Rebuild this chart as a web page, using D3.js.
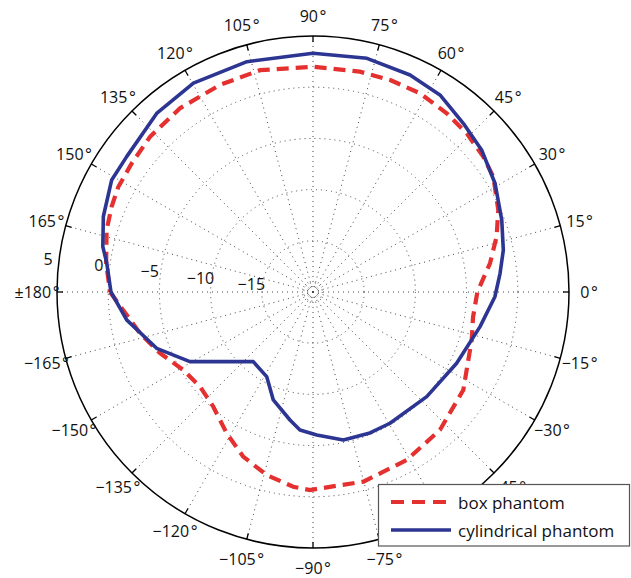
<!DOCTYPE html>
<html>
<head>
<meta charset="utf-8">
<script src="https://cdn.jsdelivr.net/npm/d3@7"></script>
<style>
  html, body { margin: 0; padding: 0; background: #fff; }
  svg { display: block; font-family: "Open Sans", "Noto Sans", sans-serif; }
</style>
</head>
<body>
<svg id="chart" width="631" height="578"></svg>
<script>
// Radiation pattern, gain in dB against azimuth in degrees (0° = right, counter-clockwise)
const boxAngle = [-180, -166.6, -158.2, -149, -140, -131, -121.4, -113, -104.2, -95.8, -90.9, -75.1, -60.9, -47.4, -33.1, -16.8, -8.9, 0, 9.2, 16.8, 23.9, 32.6, 38.5, 45.9, 53.2, 61.7, 70, 78, 90, 103.4, 114.2, 125.9, 136.4, 144.6, 151.6, 157, 163.3, 172, 180];
const boxGain  = [-0.18, -2.63, -3.91, -5.22, -5.61, -5.16, -3.83, -2.54, -1.56, -0.89, -0.66, -0.84, -1.21, -1.69, -2.48, -3.81, -4.18, -3.95, -2.49, -1.27, -0.21, 0.9, 1.24, 1.57, 1.8, 2.04, 2.03, 2.0, 2.0, 2.27, 2.17, 2.15, 1.98, 1.71, 1.61, 1.36, 1.04, 0.4, -0.18];

const cylAngle = [-180, -171.5, -160.2, -150.5, -130.6, -118.7, -110.2, -100.2, -95.4, -88.5, -78.4, -68, -59.6, -42.6, -26.4, -11.7, -1.5, 5.7, 12.4, 20.9, 30.8, 40.1, 48.3, 57.2, 65.9, 77, 90, 106, 119.8, 131.2, 144, 150.9, 160.2, 167.8, 172, 180];
const cylGain  = [-0.27, -1.6, -3.77, -6.19, -11.04, -10.58, -8.77, -7.3, -6.46, -6.04, -5.25, -5.15, -5.14, -4.91, -4.34, -3.34, -2.23, -1.64, -0.97, -0.27, 0.7, 1.53, 2.06, 2.89, 3.21, 3.42, 3.31, 3.4, 3.5, 3.18, 2.49, 2.5, 1.76, 1.0, 0.34, -0.27];

// Grid and labels
const ringValues = [-15, -10, -5, 0];
const innerRing = -19.1;
const ringLabels = ["\u221215", "\u221210", "\u22125", "0", "5"];
const ringLabelValues = [-15, -10, -5, 0, 5];
const spokeAngles = d3.range(0, 360, 15);
const angleLabels = ["0", "15", "30", "45", "60", "75", "90", "105", "120", "135", "150", "165", "\u00b1180",
  "\u2212165", "\u2212150", "\u2212135", "\u2212120", "\u2212105", "\u221290", "\u221275", "\u221260", "\u221245", "\u221230", "\u221215"];
const seriesNames = ["box phantom", "cylindrical phantom"];

const cx = 313, cy = 292, R = 256;
const svg = d3.select("#chart");
const g = svg.append("g").attr("transform", `translate(${cx},${cy})`);

const r = d3.scaleLinear().domain([-20, 5]).range([0, R]);
const rad = d => d * Math.PI / 180;
const px = (a, v) => r(v) * Math.cos(rad(a));
const py = (a, v) => -r(v) * Math.sin(rad(a));

// dotted rings
const gridStyle = sel => sel.attr("fill", "none").attr("stroke", "#444")
  .attr("stroke-width", 1).attr("stroke-dasharray", "1,4");
g.selectAll("circle.ring").data(ringValues.concat([innerRing])).join("circle")
  .attr("class", "ring").attr("r", d => r(d)).call(gridStyle);

// dotted spokes
g.selectAll("line.spoke").data(spokeAngles).join("line")
  .attr("class", "spoke")
  .attr("x1", 0).attr("y1", 0)
  .attr("x2", d => px(d, 5)).attr("y2", d => py(d, 5))
  .call(gridStyle);

// outer frame and ticks
g.append("circle").attr("r", r(5)).attr("fill", "none").attr("stroke", "#000").attr("stroke-width", 1.5);
g.selectAll("line.tick").data(spokeAngles).join("line")
  .attr("class", "tick")
  .attr("x1", d => px(d, 5)).attr("y1", d => py(d, 5))
  .attr("x2", d => px(d, 5) * (R - 6) / R).attr("y2", d => py(d, 5) * (R - 6) / R)
  .attr("stroke", "#000").attr("stroke-width", 1.3);

// radial tick labels
const ringLabelAngle = 172.8;
g.selectAll("text.rlab").data(ringLabelValues).join("text")
  .attr("class", "rlab")
  .attr("x", (d) => (r(d) + 11) * Math.cos(rad(ringLabelAngle)))
  .attr("y", (d) => -(r(d) + 11) * Math.sin(rad(ringLabelAngle)))
  .attr("text-anchor", "middle").attr("dominant-baseline", "central")
  .attr("font-size", 16).attr("fill", "#111")
  .text((d, i) => ringLabels[i]);

// angle labels
const labR = 276;
const al = g.selectAll("text.alab").data(spokeAngles).join("text")
  .attr("class", "alab")
  .attr("x", d => labR * Math.cos(rad(d)))
  .attr("y", d => -labR * Math.sin(rad(d)))
  .attr("text-anchor", "middle").attr("dominant-baseline", "central")
  .attr("font-size", 16).attr("fill", "#111");
al.append("tspan").text((d, i) => angleLabels[i]);
al.append("tspan").attr("dx", 1.5).text("\u00b0");

// pattern curves
const line = d3.line().x(d => px(d[0], d[1])).y(d => py(d[0], d[1]));
const boxPts = d3.zip(boxAngle, boxGain);
const cylPts = d3.zip(cylAngle, cylGain);

g.append("path").attr("d", line(boxPts)).attr("fill", "none")
  .attr("stroke", "#e4302f").attr("stroke-width", 4.2)
  .attr("stroke-dasharray", "12,7");
g.append("path").attr("d", line(cylPts)).attr("fill", "none")
  .attr("stroke", "#2c3592").attr("stroke-width", 3.6)
  .attr("stroke-linejoin", "round");

// legend
const lg = svg.append("g");
lg.append("rect").attr("x", 378.5).attr("y", 484.5).attr("width", 251).attr("height", 61.5)
  .attr("fill", "#fff").attr("stroke", "#555").attr("stroke-width", 1.2);
const styles = [
  { stroke: "#e4302f", width: 4.2, dash: "13,8" },
  { stroke: "#2c3592", width: 3.6, dash: null }
];
seriesNames.forEach((name, i) => {
  const y = 502 + i * 28;
  lg.append("line").attr("x1", 391).attr("x2", 451).attr("y1", y).attr("y2", y)
    .attr("stroke", styles[i].stroke).attr("stroke-width", styles[i].width)
    .attr("stroke-dasharray", styles[i].dash);
  lg.append("text").attr("x", 458).attr("y", y).attr("dominant-baseline", "central")
    .attr("font-size", 17).attr("fill", "#111").text(name);
});
</script>
</body>
</html>
